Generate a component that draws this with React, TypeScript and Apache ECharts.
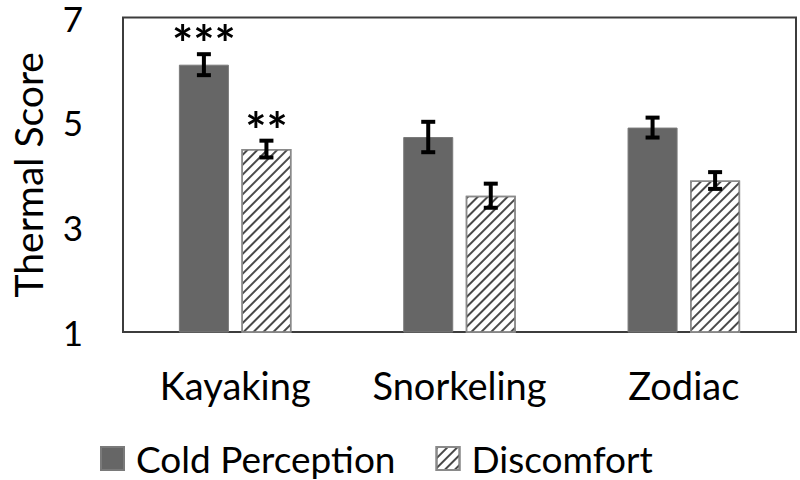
import React, { useEffect, useRef } from "react";
import * as echarts from "echarts";

const categories = ["Kayaking", "Snorkeling", "Zodiac"];
const coldMean = [6.1, 4.72, 4.9];
const coldErr = [0.2, 0.29, 0.19];
const discMean = [4.49, 3.6, 3.89];
const discErr = [0.16, 0.23, 0.16];
const coldStars = ["***", "", ""];
const discStars = ["**", "", ""];
const yTicks = [1, 3, 5, 7];

const FONT = "Lato";
const BAR_FRAC = 0.223;
const GAP_FRAC = 0.25;

function errSeries(means: number[], errs: number[], stars: string[], side: number) {
  return {
    type: "custom",
    z: 10,
    silent: true,
    data: means.map((m, i) => [i, m, errs[i]]),
    renderItem: (params: any, api: any) => {
      const i = api.value(0);
      const m = api.value(1);
      const e = api.value(2);
      const star = stars[i];
      const bandW = api.size([1, 0])[0];
      const off = (bandW * BAR_FRAC * (1 + GAP_FRAC)) / 2;
      const top = api.coord([i, m + e]);
      const bot = api.coord([i, m - e]);
      const x = top[0] + side * off;
      const capW = 14;
      const th = 4;
      const children: any[] = [
        { type: "rect", shape: { x: x - th / 2, y: top[1], width: th, height: bot[1] - top[1] }, style: { fill: "#000" } },
        { type: "rect", shape: { x: x - capW / 2, y: top[1] - th / 2, width: capW, height: th }, style: { fill: "#000" } },
        { type: "rect", shape: { x: x - capW / 2, y: bot[1] - th / 2, width: capW, height: th }, style: { fill: "#000" } },
      ];
      if (star) {
        children.push({
          type: "text",
          x: x,
          y: top[1] + 14,
          style: {
            text: star,
            fill: "#000",
            font: `bold 50px ${FONT}`,
            align: "center",
            verticalAlign: "bottom",
          },
        });
      }
      return { type: "group", children };
    },
  };
}

export default function App() {
  const ref = useRef<HTMLDivElement>(null);
  useEffect(() => {
    if (!ref.current) return;
    const chart = echarts.init(ref.current, undefined, { renderer: "svg" });
    chart.setOption({
      animation: false,
      backgroundColor: "#fff",
      textStyle: { fontFamily: FONT },
      grid: {
        left: 110,
        top: 16,
        width: 686,
        height: 316,
        show: true,
        borderColor: "#3c3c3c",
        borderWidth: 2,
        backgroundColor: "transparent",
      },
      legend: {
        left: 100,
        top: 440,
        padding: 0,
        itemWidth: 23,
        itemHeight: 23,
        itemGap: 40,
        icon: "rect",
        textStyle: {
          fontSize: 37,
          lineHeight: 32,
          color: "#000",
          fontFamily: FONT,
          padding: [0, 0, 0, 7],
        },
        data: ["Cold Perception", "Discomfort"],
      },
      xAxis: {
        type: "category",
        data: categories,
        axisLine: { show: false },
        axisTick: { show: false },
        axisLabel: { fontSize: 38, color: "#000", margin: 34, fontFamily: FONT, interval: 0 },
      },
      yAxis: {
        type: "value",
        min: 1,
        max: 7,
        interval: 2,
        name: "Thermal Score",
        nameLocation: "middle",
        nameGap: 76,
        nameTextStyle: { fontSize: 39, color: "#000", fontFamily: FONT },
        splitLine: { show: false },
        axisLine: { show: false },
        axisTick: { show: false },
        axisLabel: {
          fontSize: 35,
          lineHeight: 22,
          color: "#000",
          margin: 40,
          fontFamily: FONT,
          formatter: (v: number) => (yTicks.includes(v) ? String(v) : ""),
        },
      },
      series: [
        {
          name: "Cold Perception",
          type: "bar",
          data: coldMean,
          barWidth: `${BAR_FRAC * 100}%`,
          barGap: `${GAP_FRAC * 100}%`,
          itemStyle: { color: "#666666", borderColor: "#7a7a7a", borderWidth: 1 },
        },
        {
          name: "Discomfort",
          type: "bar",
          data: discMean,
          barWidth: `${BAR_FRAC * 100}%`,
          itemStyle: {
            color: "#ffffff",
            borderColor: "#8a8a8a",
            borderWidth: 1.5,
            decal: {
              symbol: "rect",
              symbolSize: 1,
              color: "#4a4a4a",
              dashArrayX: [1, 0],
              dashArrayY: [2, 4.5],
              rotation: -Math.PI / 4,
            },
          },
        },
        errSeries(coldMean, coldErr, coldStars, -1),
        errSeries(discMean, discErr, discStars, 1),
      ],
    });
    return () => chart.dispose();
  }, []);
  return (
    <div
      ref={ref}
      style={{ position: "absolute", left: 0, top: 0, width: 800, height: 480 }}
    />
  );
}
